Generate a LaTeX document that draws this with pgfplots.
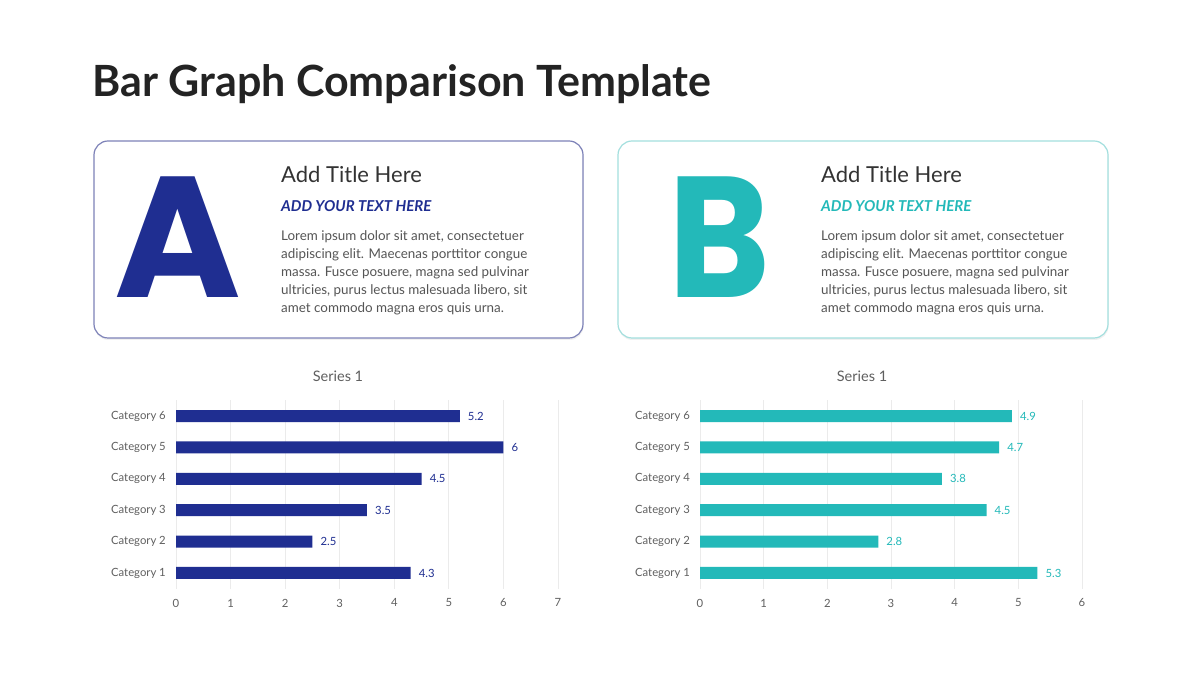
\documentclass[border=0pt]{standalone}
\usepackage{fontspec}
\setmainfont{Lato}
\newfontfamily\pop{Poppins}
\usepackage{pgfplots}
\pgfplotsset{compat=1.18}
\definecolor{navy}{HTML}{1F2E91}
\definecolor{myteal}{HTML}{23B9B9}
\definecolor{txt}{HTML}{333333}
\definecolor{bodyc}{HTML}{555555}
\definecolor{axgray}{HTML}{5F5F5F}
\definecolor{gridc}{HTML}{EBEBEB}
\definecolor{borderA}{HTML}{7D82B8}
\definecolor{borderB}{HTML}{A3DFDE}
\definecolor{titlec}{HTML}{232323}
\pgfplotsset{barstyle/.style={
  xbar, scale only axis, width=382pt, height=188.4pt,
  ymin=0.5, ymax=6.5, xmin=0,
  ytick={1,...,6},
  yticklabels={Category 1,Category 2,Category 3,Category 4,Category 5,Category 6},
  axis line style={draw=none}, major tick length=0pt, tick style={draw=none},
  xmajorgrids, grid style={gridc, line width=0.8pt},
  bar width=12pt, clip=false,
  tick label style={font=\fontsize{11.3}{13}\selectfont, text=axgray},
  yticklabel style={anchor=east, inner sep=0pt, xshift=-10pt},
  xticklabel style={anchor=north, inner sep=0pt, yshift=-10pt},
  nodes near coords,
  every node near coord/.append style={anchor=west, inner sep=0pt, xshift=8pt, font=\fontsize{11.3}{13}\selectfont},
  /pgf/number format/assume math mode=true,
  anchor=south west}}
\begin{document}
\begin{tikzpicture}[x=1pt,y=1pt]
\path[use as bounding box, fill=white] (0,0) rectangle (1200,675);
% title
\node[anchor=base west, inner sep=0pt, text=titlec, font=\fontsize{43}{50}\selectfont\bfseries] at (92,578) {Bar Graph Comparison Template};
% boxes
\fill[black!6, rounded corners=14pt] (94.5,532.5) rectangle (583.5,335);
\fill[black!6, rounded corners=14pt] (618.5,532.5) rectangle (1108.5,335);
\draw[borderA, line width=1.2pt, rounded corners=14pt, fill=white] (94,534) rectangle (583,337);
\draw[borderB, line width=1.2pt, rounded corners=14pt, fill=white] (618,534) rectangle (1108,337);
% big letters
\node[anchor=base west, inner sep=0pt, text=navy, font=\pop\fontsize{172}{180}\selectfont\bfseries] at (114,377) {A};
\node[anchor=base west, inner sep=0pt, text=myteal, font=\pop\fontsize{172}{180}\selectfont\bfseries, xscale=0.9] at (668,377) {B};
% texts
\foreach \xx/\cc in {281/navy, 821/myteal}{
  \node[anchor=base west, inner sep=0pt, text=txt, font=\fontsize{22}{26}\selectfont] at (\xx,492) {Add Title Here};
  \node[anchor=base west, inner sep=0pt, text=\cc, font=\fontsize{15}{18}\selectfont\bfseries\itshape] at (\xx,463) {ADD YOUR TEXT HERE};
  \node[anchor=base west, inner sep=0pt, text=bodyc, font=\fontsize{13.4}{18}\selectfont] at (\xx,434) {Lorem ipsum dolor sit amet, consectetuer};
  \node[anchor=base west, inner sep=0pt, text=bodyc, font=\fontsize{13.4}{18}\selectfont] at (\xx,416) {adipiscing elit. Maecenas porttitor congue};
  \node[anchor=base west, inner sep=0pt, text=bodyc, font=\fontsize{13.4}{18}\selectfont] at (\xx,398) {massa. Fusce posuere, magna sed pulvinar};
  \node[anchor=base west, inner sep=0pt, text=bodyc, font=\fontsize{13.4}{18}\selectfont] at (\xx,380) {ultricies, purus lectus malesuada libero, sit};
  \node[anchor=base west, inner sep=0pt, text=bodyc, font=\fontsize{13.4}{18}\selectfont] at (\xx,362) {amet commodo magna eros quis urna.};
}
% chart titles
\node[anchor=base, inner sep=0pt, text=axgray, font=\fontsize{14.5}{16}\selectfont] at (338,293) {Series 1};
\node[anchor=base, inner sep=0pt, text=axgray, font=\fontsize{14.5}{16}\selectfont] at (862,293) {Series 1};
% chart A
\begin{axis}[barstyle, at={(176pt,86.3pt)}, xmax=7, xtick={0,...,7},
  every node near coord/.append style={text=navy}]
\addplot[fill=navy, draw=none] coordinates {(4.3,1) (2.5,2) (3.5,3) (4.5,4) (6,5) (5.2,6)};
\end{axis}
% chart B
\begin{axis}[barstyle, at={(700pt,86.3pt)}, xmax=6, xtick={0,...,6},
  every node near coord/.append style={text=myteal}]
\addplot[fill=myteal, draw=none] coordinates {(5.3,1) (2.8,2) (4.5,3) (3.8,4) (4.7,5) (4.9,6)};
\end{axis}
\end{tikzpicture}
\end{document}
